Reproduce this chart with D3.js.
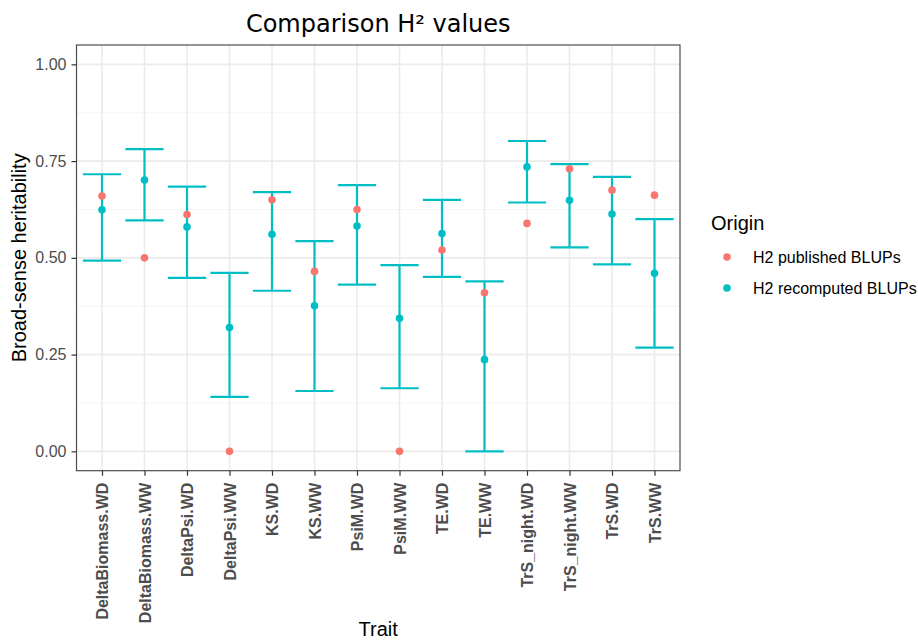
<!DOCTYPE html>
<html><head><meta charset="utf-8">
<script src="https://cdn.jsdelivr.net/npm/d3@7"></script>
<style>body{margin:0;background:#fff}svg{display:block}</style>
</head><body>
<svg id="chart" width="918" height="641"></svg>
<script>
const traits = ["DeltaBiomass.WD","DeltaBiomass.WW","DeltaPsi.WD","DeltaPsi.WW","KS.WD","KS.WW","PsiM.WD","PsiM.WW","TE.WD","TE.WW","TrS_night.WD","TrS_night.WW","TrS.WD","TrS.WW"];
const published = [0.660,0.500,0.612,0.000,0.650,0.465,0.625,0.000,0.520,0.410,0.589,0.730,0.675,0.662];
const recomputed = [0.624,0.701,0.580,0.320,0.561,0.376,0.582,0.344,0.563,0.237,0.735,0.649,0.613,0.460];
const lower = [0.493,0.597,0.448,0.141,0.415,0.156,0.431,0.163,0.451,0.000,0.643,0.527,0.483,0.268];
const upper = [0.716,0.781,0.684,0.461,0.670,0.543,0.688,0.481,0.650,0.439,0.802,0.742,0.709,0.600];
const yTicks = [0,0.25,0.5,0.75,1];
const yMinor = [0.125,0.375,0.625,0.875];
const seriesNames = ["H2 published BLUPs","H2 recomputed BLUPs"];
const colors = ["#F8766D","#00BFC4"];

const svg = d3.select("#chart");
const L = 76.5, R = 680, T = 45, B = 470.7;
const x = d3.scalePoint().domain(traits).range([L, R]).padding(0.6);
const y = d3.scaleLinear().domain([-0.05, 1.05]).range([B, T]);
const step = x.step();

// grid
const g = svg.append("g");
g.selectAll(".ymin").data(yMinor).join("line")
  .attr("x1", L).attr("x2", R).attr("y1", d => y(d)).attr("y2", d => y(d))
  .attr("stroke", "#F2F2F2").attr("stroke-width", 0.8);
g.selectAll(".ymaj").data(yTicks).join("line")
  .attr("x1", L).attr("x2", R).attr("y1", d => y(d)).attr("y2", d => y(d))
  .attr("stroke", "#EBEBEB").attr("stroke-width", 1.6);
g.selectAll(".xmaj").data(traits).join("line")
  .attr("x1", d => x(d)).attr("x2", d => x(d)).attr("y1", T).attr("y2", B)
  .attr("stroke", "#EBEBEB").attr("stroke-width", 1.6);

// error bars
const eb = svg.append("g").attr("stroke", colors[1]).attr("stroke-width", 2.2).attr("fill", "none");
traits.forEach((t, i) => {
  const cx = x(t), hw = step * 0.45;
  eb.append("line").attr("x1", cx).attr("x2", cx).attr("y1", y(lower[i])).attr("y2", y(upper[i]));
  eb.append("line").attr("x1", cx - hw).attr("x2", cx + hw).attr("y1", y(lower[i])).attr("y2", y(lower[i]));
  eb.append("line").attr("x1", cx - hw).attr("x2", cx + hw).attr("y1", y(upper[i])).attr("y2", y(upper[i]));
});

// points
svg.append("g").selectAll("circle").data(traits).join("circle")
  .attr("cx", d => x(d)).attr("cy", (d, i) => y(published[i])).attr("r", 3.8).attr("fill", colors[0]);
svg.append("g").selectAll("circle").data(traits).join("circle")
  .attr("cx", d => x(d)).attr("cy", (d, i) => y(recomputed[i])).attr("r", 3.8).attr("fill", colors[1]);

// border
svg.append("rect").attr("x", L).attr("y", T).attr("width", R - L).attr("height", B - T)
  .attr("fill", "none").attr("stroke", "#4D4D4D").attr("stroke-width", 1.2);

// axes
const yAxis = svg.append("g").attr("transform", `translate(${L},0)`)
  .call(d3.axisLeft(y).tickValues(yTicks).tickFormat(d3.format(".2f")).tickSize(5).tickPadding(5));
yAxis.select(".domain").remove();
yAxis.selectAll("line").attr("stroke", "#333333").attr("stroke-width", 1.2);
yAxis.selectAll("text").attr("fill", "#4D4D4D").style("font-family", "Liberation Sans, Arial, sans-serif").style("font-size", "16px");

const xAxis = svg.append("g").attr("transform", `translate(0,${B})`)
  .call(d3.axisBottom(x).tickSize(5).tickPadding(6));
xAxis.select(".domain").remove();
xAxis.selectAll("line").attr("stroke", "#333333").attr("stroke-width", 1.2);
xAxis.selectAll("text")
  .attr("transform", "rotate(-90)")
  .attr("x", -12).attr("y", 0).attr("dy", "0.35em")
  .attr("text-anchor", "end")
  .attr("fill", "#4D4D4D")
  .style("font-family", "Liberation Sans, Arial, sans-serif").style("font-size", "16px").style("font-weight", "bold");

// titles
svg.append("text").attr("x", (L + R) / 2).attr("y", 32).attr("text-anchor", "middle")
  .style("font-family", "DejaVu Sans, sans-serif").style("font-size", "24px").attr("fill", "#000")
  .text("Comparison H² values");
svg.append("text").attr("x", (L + R) / 2).attr("y", 636).attr("text-anchor", "middle")
  .style("font-family", "Liberation Sans, Arial, sans-serif").style("font-size", "20px").attr("fill", "#000")
  .text("Trait");
svg.append("text").attr("transform", `translate(26,${(T + B) / 2}) rotate(-90)`).attr("text-anchor", "middle")
  .style("font-family", "Liberation Sans, Arial, sans-serif").style("font-size", "20px").attr("fill", "#000")
  .text("Broad-sense heritability");

// legend
const lg = svg.append("g");
lg.append("text").attr("x", 711).attr("y", 230)
  .style("font-family", "Liberation Sans, Arial, sans-serif").style("font-size", "20px").attr("fill", "#000")
  .text("Origin");
seriesNames.forEach((s, i) => {
  const cy = 257 + i * 31;
  lg.append("circle").attr("cx", 727).attr("cy", cy).attr("r", 3.8).attr("fill", colors[i]);
  lg.append("text").attr("x", 753).attr("y", cy).attr("dy", "0.35em")
    .style("font-family", "Liberation Sans, Arial, sans-serif").style("font-size", "16px").attr("fill", "#000")
    .text(s);
});
</script>
</body></html>
